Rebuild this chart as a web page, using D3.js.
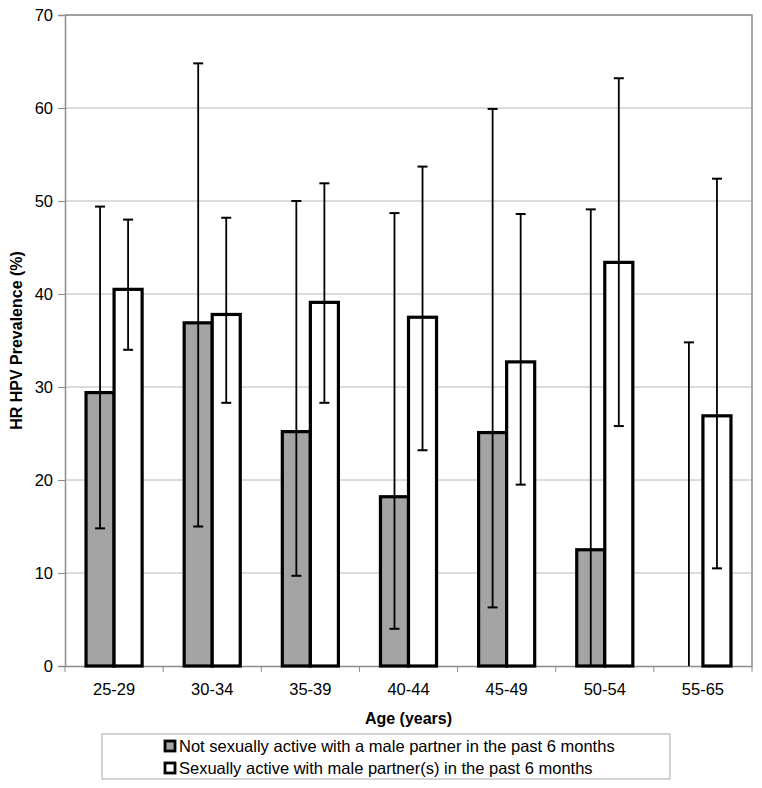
<!DOCTYPE html>
<html>
<head>
<meta charset="utf-8">
<script src="https://cdn.jsdelivr.net/npm/d3@7"></script>
<style>
  html, body { margin: 0; padding: 0; background: #ffffff; }
  svg { display: block; font-family: "Liberation Sans", Arial, sans-serif; }
</style>
</head>
<body>
<svg id="chart" width="762" height="788"></svg>
<script>
// ---- Data ----
const categories = ["25-29", "30-34", "35-39", "40-44", "45-49", "50-54", "55-65"];
const seriesNames = [
  "Not sexually active with a male partner in the past 6 months",
  "Sexually active with male partner(s) in the past 6 months"
];
const notActive     = [29.4, 36.9, 25.2, 18.2, 25.1, 12.5, 0];
const notActiveLow  = [14.8, 15.0,  9.7,  4.0,  6.3,  0.0, 0];
const notActiveHigh = [49.4, 64.8, 50.0, 48.7, 59.9, 49.1, 34.8];
const active        = [40.5, 37.8, 39.1, 37.5, 32.7, 43.4, 26.9];
const activeLow     = [34.0, 28.3, 28.3, 23.2, 19.5, 25.8, 10.5];
const activeHigh    = [48.0, 48.2, 51.9, 53.7, 48.6, 63.2, 52.4];
const yTicks = [0, 10, 20, 30, 40, 50, 60, 70];
const yLabel = "HR HPV Prevalence (%)";
const xLabel = "Age (years)";

// ---- Layout ----
const svg = d3.select("#chart");
const L = 65, R = 752, T = 15, B = 666;
const fills = ["#a4a4a4", "#ffffff"];

const x0 = d3.scaleBand().domain(categories).range([L, R]).paddingInner(0).paddingOuter(0);
const barW = x0.bandwidth() / 3.5;
const y = d3.scaleLinear().domain([0, 70]).range([B, T]);

// gridlines
svg.append("g").selectAll("line").data(yTicks.filter(t => t > 0)).join("line")
  .attr("x1", L).attr("x2", R)
  .attr("y1", d => y(d)).attr("y2", d => y(d))
  .attr("stroke", "#b8b8b8").attr("stroke-width", 1);

// plot frame (top/right)
svg.append("path")
  .attr("d", `M${L},${T}H${R}V${B}`)
  .attr("fill", "none").attr("stroke", "#8c8c8c").attr("stroke-width", 1.5);

// y axis
const yAxis = d3.axisLeft(y).tickValues(yTicks).tickSize(7).tickPadding(5);
const gy = svg.append("g").attr("transform", `translate(${L},0)`).call(yAxis);
gy.select(".domain").attr("stroke", "#8c8c8c").attr("stroke-width", 1.5);
gy.selectAll(".tick line").attr("stroke", "#8c8c8c").attr("stroke-width", 1);
gy.selectAll(".tick text").attr("font-size", 16.5).attr("fill", "#000")
  .attr("font-family", "Liberation Sans, Arial, sans-serif");

// x axis
const xAxis = d3.axisBottom(x0).tickSize(0).tickPadding(17);
const gx = svg.append("g").attr("transform", `translate(0,${B})`).call(xAxis);
gx.select(".domain").attr("stroke", "#8c8c8c").attr("stroke-width", 1.5);
gx.selectAll(".tick text").attr("font-size", 16.5).attr("fill", "#000")
  .attr("font-family", "Liberation Sans, Arial, sans-serif");
// x tick marks at category boundaries
const bounds = categories.map(c => x0(c)).concat([R]);
svg.append("g").selectAll("line").data(bounds).join("line")
  .attr("x1", d => d).attr("x2", d => d)
  .attr("y1", B).attr("y2", B + 6)
  .attr("stroke", "#8c8c8c").attr("stroke-width", 1);

// bars
const series = [
  { vals: notActive, lo: notActiveLow, hi: notActiveHigh, off: -1 },
  { vals: active, lo: activeLow, hi: activeHigh, off: 0 }
];
const center = c => x0(c) + x0.bandwidth() / 2;

series.forEach((s, si) => {
  svg.append("g").selectAll("rect").data(categories).join("rect")
    .attr("x", c => center(c) + s.off * barW)
    .attr("y", (c, i) => y(s.vals[i]))
    .attr("width", barW)
    .attr("height", (c, i) => B - y(s.vals[i]))
    .attr("fill", fills[si])
    .attr("stroke", "#000").attr("stroke-width", 3.2);
});

// error bars
series.forEach((s, si) => {
  const g = svg.append("g");
  categories.forEach((c, i) => {
    const cx = center(c) + s.off * barW + barW / 2;
    g.append("line").attr("x1", cx).attr("x2", cx)
      .attr("y1", y(s.lo[i])).attr("y2", y(s.hi[i]))
      .attr("stroke", "#000").attr("stroke-width", 1.8);
    g.append("line").attr("x1", cx - 5).attr("x2", cx + 5)
      .attr("y1", y(s.hi[i])).attr("y2", y(s.hi[i]))
      .attr("stroke", "#000").attr("stroke-width", 2);
    if (s.lo[i] > 0) {
      g.append("line").attr("x1", cx - 5).attr("x2", cx + 5)
        .attr("y1", y(s.lo[i])).attr("y2", y(s.lo[i]))
        .attr("stroke", "#000").attr("stroke-width", 2);
    }
  });
});

// axis titles
svg.append("text")
  .attr("transform", `translate(22,${(T + B) / 2}) rotate(-90)`)
  .attr("text-anchor", "middle")
  .attr("font-size", 16).attr("font-weight", "bold")
  .text(yLabel);

svg.append("text")
  .attr("x", (L + R) / 2).attr("y", 724)
  .attr("text-anchor", "middle")
  .attr("font-size", 16).attr("font-weight", "bold")
  .text(xLabel);

// legend
svg.append("rect")
  .attr("x", 102).attr("y", 734).attr("width", 568).attr("height", 45)
  .attr("fill", "#fff").attr("stroke", "#a8a8a8").attr("stroke-width", 1);
const lg = svg.append("g").selectAll("g").data(seriesNames).join("g")
  .attr("transform", (d, i) => `translate(165,${746 + i * 22})`);
lg.append("rect")
  .attr("x", 0).attr("y", -5).attr("width", 10).attr("height", 10)
  .attr("fill", (d, i) => fills[i])
  .attr("stroke", "#000").attr("stroke-width", 2.8);
lg.append("text")
  .attr("x", 14).attr("y", 6)
  .attr("font-size", 16.5)
  .text(d => d);
</script>
</body>
</html>
